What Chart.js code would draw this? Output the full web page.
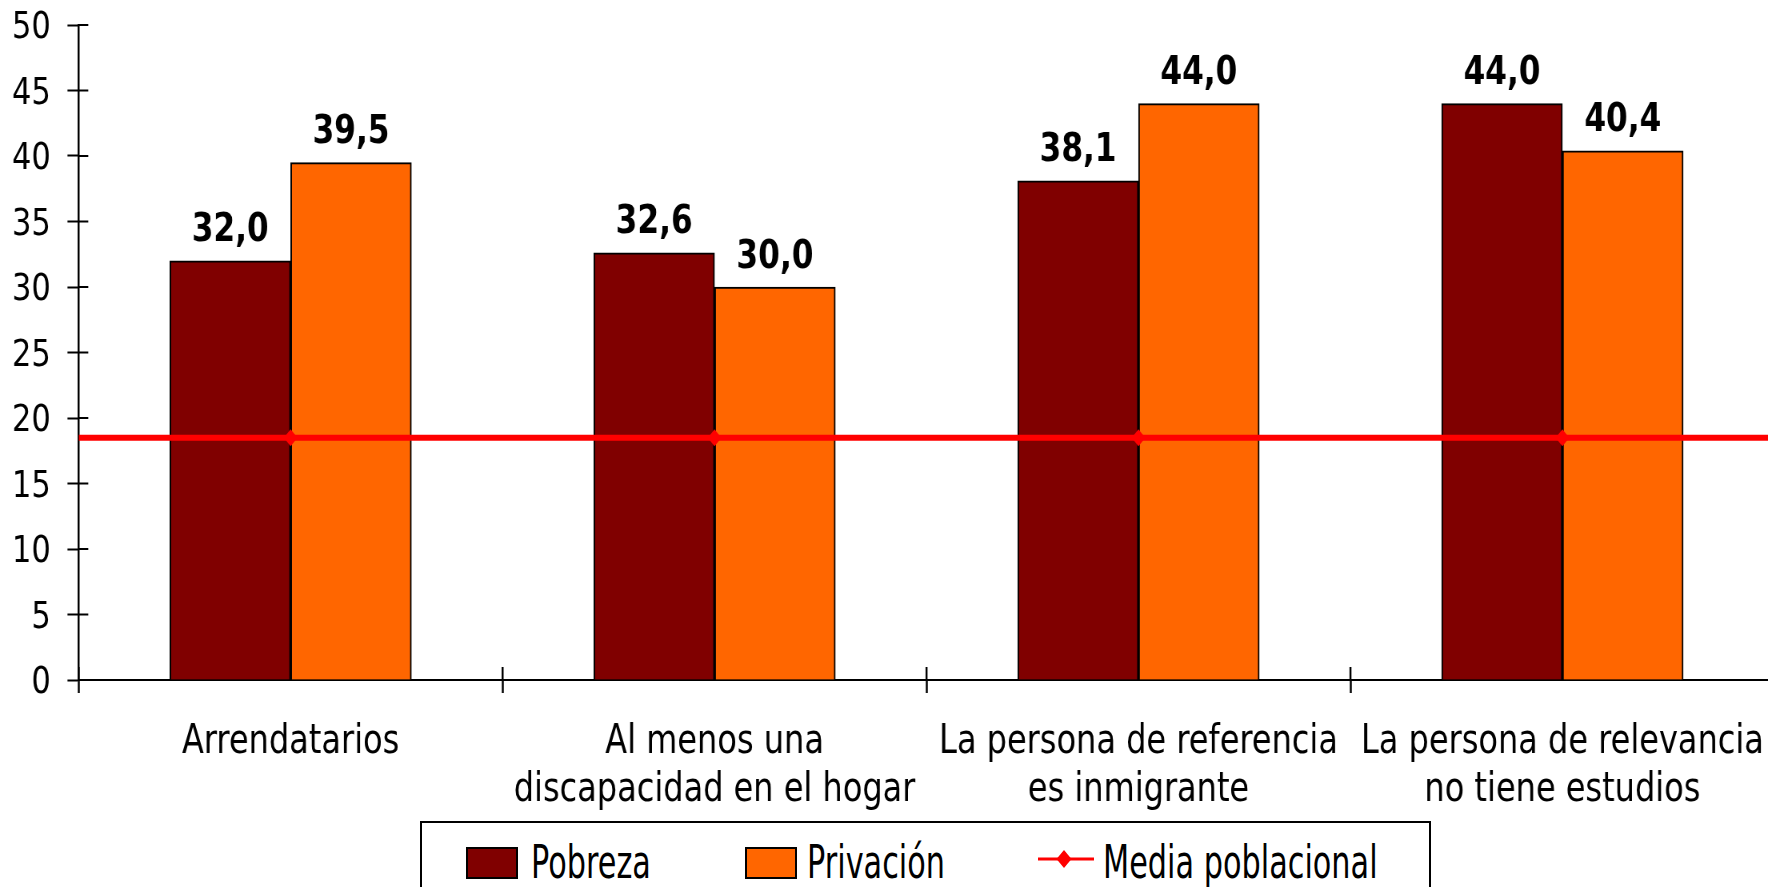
<!DOCTYPE html>
<html><head><meta charset="utf-8">
<script src="https://cdn.jsdelivr.net/npm/chart.js@4.4.0/dist/chart.umd.min.js"></script>
<style>
html,body{margin:0;padding:0;background:#fff;overflow:hidden;width:1768px;height:887px;}
#wrap{position:absolute;left:0;top:0;width:2218px;height:887px;transform:scaleX(0.8);transform-origin:0 0;}
#c{display:block;}
#legend{position:absolute;left:420px;top:821px;width:1011px;height:110px;border:2px solid #000;box-sizing:border-box;background:#fff;font-family:"DejaVu Sans",sans-serif;}
.lbox{position:absolute;top:23.5px;width:52px;height:32px;border:2px solid #000;box-sizing:border-box;}
.lsym{position:absolute;top:26px;width:56px;height:20px;}
.ltxt{position:absolute;top:15px;font-size:47px;line-height:47px;white-space:nowrap;transform:scaleX(0.645);transform-origin:0 0;color:#000;}
</style></head>
<body>
<div id="wrap"><canvas id="c" width="2218" height="887"></canvas></div>
<div id="legend"></div>
<script>
// ---- data ----
const categories = [
  'Arrendatarios',
  ['Al menos una', 'discapacidad en el hogar'],
  ['La persona de referencia', 'es inmigrante'],
  ['La persona de relevancia', 'no tiene estudios']
];
const seriesNames = ['Pobreza', 'Privación', 'Media poblacional'];
const pobreza = [32.0, 32.6, 38.1, 44.0];
const privacion = [39.5, 30.0, 44.0, 40.4];
const media = [18.5, 18.5, 18.5, 18.5];
const yMin = 0, yMax = 50, yStep = 5;

// ---- styles ----
const colors = { pobreza: '#800000', privacion: '#ff6600', media: '#ff0000' };
const FONT = '"DejaVu Sans", sans-serif';

// line spanning the full plot width (category edges on a hidden linear axis)
const lineData = [{ x: -0.5, y: media[0] }]
  .concat(media.map((v, i) => ({ x: i, y: v })))
  .concat([{ x: categories.length - 0.5, y: media[media.length - 1] }]);
const lineRadius = lineData.map((p, i) => (i === 0 || i === lineData.length - 1) ? 0 : 8.5);

const fmt = v => v.toFixed(1).replace('.', ',');

const decor = {
  id: 'decor',
  afterDatasetsDraw(chart) {
    const ctx = chart.ctx;
    ctx.save();
    ctx.font = 'bold 39px ' + FONT;
    ctx.fillStyle = '#000';
    ctx.textAlign = 'center';
    ctx.textBaseline = 'alphabetic';
    [1, 2].forEach(di => {
      const meta = chart.getDatasetMeta(di);
      const vals = chart.data.datasets[di].data;
      meta.data.forEach((el, i) => ctx.fillText(fmt(vals[i]), el.x, el.y - 19.5));
    });
    ctx.restore();
  },
  afterDraw(chart) {
    const ctx = chart.ctx, ys = chart.scales.y, xs = chart.scales.x, a = chart.chartArea;
    ctx.save();
    ctx.strokeStyle = '#000';
    ctx.lineWidth = 2;
    ys.ticks.forEach(t => {
      const py = ys.getPixelForValue(t.value);
      ctx.beginPath(); ctx.moveTo(a.left, py); ctx.lineTo(a.left + 12, py); ctx.stroke();
    });
    ctx.lineWidth = 2.5;
    for (let i = 0; i <= categories.length; i++) {
      const px = xs.getPixelForValue(i - 0.5);
      ctx.beginPath(); ctx.moveTo(px, a.bottom); ctx.lineTo(px, a.bottom - 13); ctx.stroke();
    }
    ctx.restore();
  }
};

const barCommon = { borderColor: '#000', borderWidth: 2, barThickness: 151, order: 1, xAxisID: 'x', yAxisID: 'y' };

const chart = new Chart(document.getElementById('c'), {
  data: {
    labels: categories,
    datasets: [
      {
        type: 'line', label: seriesNames[2], data: lineData, xAxisID: 'x2', yAxisID: 'y',
        borderColor: colors.media, backgroundColor: colors.media, borderWidth: 6,
        pointStyle: 'rectRot', pointRadius: lineRadius, pointBorderWidth: 0,
        pointBackgroundColor: colors.media, fill: false, tension: 0, order: 0
      },
      Object.assign({ type: 'bar', label: seriesNames[0], data: pobreza, backgroundColor: colors.pobreza }, barCommon),
      Object.assign({ type: 'bar', label: seriesNames[1], data: privacion, backgroundColor: colors.privacion }, barCommon)
    ]
  },
  options: {
    responsive: false,
    devicePixelRatio: 1,
    animation: false,
    layout: { padding: { left: 15, right: 0, top: 25, bottom: 72 } },
    plugins: { legend: { display: false }, tooltip: { enabled: false } },
    scales: {
      x: {
        type: 'category', offset: true, position: 'bottom',
        grid: { offset: true, drawOnChartArea: false, drawTicks: true, tickLength: 13, tickWidth: 2.5, tickColor: '#000' },
        border: { display: true, color: '#000', width: 2 },
        ticks: { color: '#000', font: { family: FONT, size: 40, lineHeight: 1.2 }, padding: 26, maxRotation: 0, autoSkip: false },
        afterFit(s) { s.height -= s.options.ticks.padding; s.paddingLeft = 0; s.paddingRight = 0; }
      },
      x2: { type: 'linear', display: false, min: -0.5, max: categories.length - 0.5 },
      y: {
        min: yMin, max: yMax,
        ticks: { stepSize: yStep, color: '#000', font: { family: FONT, size: 38 }, padding: 21, labelOffset: 3.5 },
        grid: { drawOnChartArea: false, tickLength: 14, tickWidth: 2, tickColor: '#000' },
        border: { display: true, color: '#000', width: 2.5 },
        afterFit(s) { s.width -= s.options.ticks.padding; s.paddingTop = 0; s.paddingBottom = 0; }
      }
    }
  },
  plugins: [decor]
});

// ---- HTML legend built from the chart's datasets ----
(function () {
  const lg = document.getElementById('legend');
  const pos = [ {box: 44, txt: 108.7}, {box: 323, txt: 384.7}, {box: 616, txt: 680.7} ];
  const order = [1, 2, 0];
  order.forEach((di, k) => {
    const ds = chart.data.datasets[di];
    if (ds.type === 'bar') {
      const b = document.createElement('div');
      b.className = 'lbox'; b.style.left = pos[k].box + 'px'; b.style.background = ds.backgroundColor;
      lg.appendChild(b);
    } else {
      const ns = 'http://www.w3.org/2000/svg';
      const s = document.createElementNS(ns, 'svg');
      s.setAttribute('class', 'lsym'); s.setAttribute('width', '56'); s.setAttribute('height', '20');
      s.style.left = pos[k].box + 'px';
      const l = document.createElementNS(ns, 'line');
      l.setAttribute('x1', '0'); l.setAttribute('x2', '56'); l.setAttribute('y1', '10'); l.setAttribute('y2', '10');
      l.setAttribute('stroke', ds.borderColor); l.setAttribute('stroke-width', '3');
      const d = document.createElementNS(ns, 'polygon');
      d.setAttribute('points', '26,1 33.5,10 26,19 18.5,10');
      d.setAttribute('fill', ds.borderColor);
      s.appendChild(l); s.appendChild(d);
      lg.appendChild(s);
    }
    const t = document.createElement('div');
    t.className = 'ltxt'; t.style.left = pos[k].txt + 'px'; t.textContent = ds.label;
    lg.appendChild(t);
  });
})();
</script>
</body></html>
